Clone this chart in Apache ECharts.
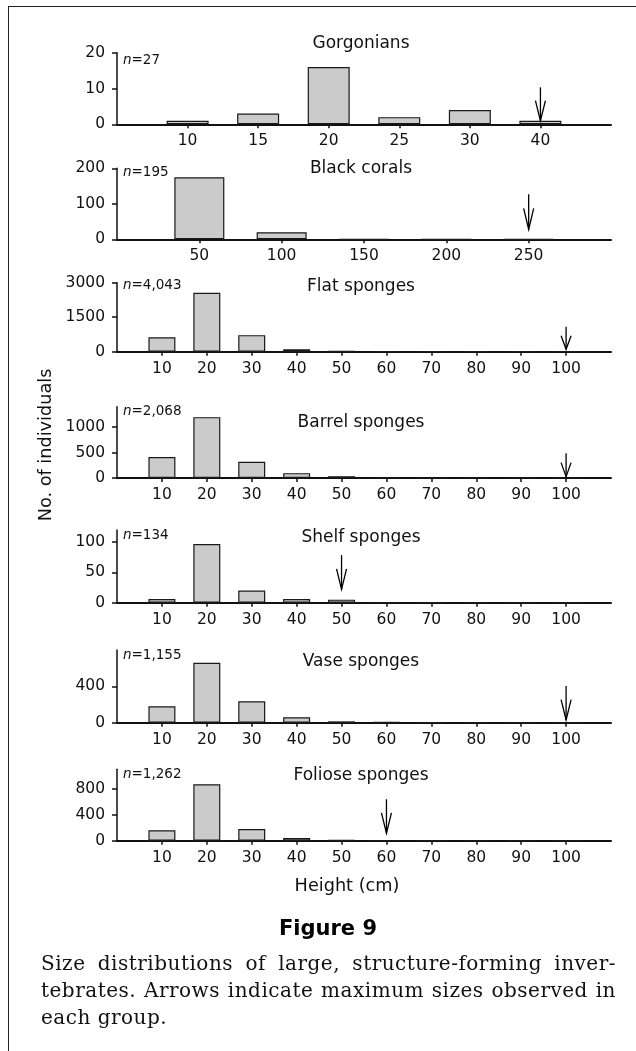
<!DOCTYPE html>
<html>
<head>
<meta charset="utf-8">
<script src="https://cdn.jsdelivr.net/npm/echarts@6/dist/echarts.min.js"></script>
<style>
  body { margin: 0; background: #fff; }
  #frame { position: absolute; left: 8px; top: 6px; width: 640px; height: 1060px;
           border-left: 1.5px solid #222; border-top: 1.5px solid #222; }
  #main { position: absolute; left: 0; top: 0; width: 636px; height: 1051px; }
  .cap { position: absolute; left: 41px; width: 575px; height: 27px; line-height: 27px;
         font-family: "DejaVu Serif", serif; font-size: 20px; letter-spacing: 0.5px;
         color: #111; white-space: nowrap; }
  .just { text-align: justify; text-align-last: justify; }
</style>
</head>
<body>
<div id="frame"></div>
<div id="main"></div>
<div class="cap just" style="top:950px">Size distributions of large, structure-forming inver-</div>
<div class="cap just" style="top:977px">tebrates. Arrows indicate maximum sizes observed in</div>
<div class="cap" style="top:1004px">each group.</div>
<script>
// bins / categories
var gorgonianLabels = ['10', '15', '20', '25', '30', '40']
var blackCoralBins = [50, 100, 150, 200, 250]
var spongeBins = [10, 20, 30, 40, 50, 60, 70, 80, 90, 100]

// counts
var gorgonianCounts = [1, 3, 16, 2, 4, 1]
var blackCoralCounts = [175, 20, 0, 0, 0]
var flatCounts = [630, 2560, 720, 105, 20, 5, 2, 1, 0, 0]
var barrelCounts = [410, 1195, 320, 95, 35, 10, 3, 0, 0, 0]
var shelfCounts = [6, 97, 20, 6, 5, 0, 0, 0, 0, 0]
var vaseCounts = [180, 660, 235, 60, 15, 5, 0, 0, 0, 0]
var folioseCounts = [160, 870, 180, 40, 10, 2, 0, 0, 0, 0]

var groupNames = ['Gorgonians', 'Black corals', 'Flat sponges', 'Barrel sponges',
                  'Shelf sponges', 'Vase sponges', 'Foliose sponges']
var sampleSizes = ['27', '195', '4,043', '2,068', '134', '1,155', '1,262']
var yTickValues = [[0, 10, 20], [0, 100, 200], [0, 1500, 3000], [0, 500, 1000],
                   [0, 50, 100], [0, 400], [0, 400, 800]]
var yMaxValues = [20, 200, 3000, 1400, 120, 800, 1100]
// arrows: maximum size observed, and the count level where the arrow tip sits
var maxSizes = ['40', 250, 100, 100, 50, 100, 60]
var arrowTipCounts = [1, 28, 104, 26, 22, 30, 115]

// layout (pixels)
var panelTop = [52.7, 168.3, 282.7, 406.7, 530, 650, 769.3]
var panelHeight = [71.6, 71, 69, 71.3, 72.7, 72.7, 71.4]
var titleY = [44, 169, 287, 422.5, 538, 661.5, 775.5]
var nLabelY = [60, 172, 285, 411.7, 535, 655, 774]
var arrowLen = [33.4, 35, 22.6, 23.4, 34.3, 34, 34]
var barWidthPx = [42, 50, 27, 27, 27, 27, 27]

var FONT = 'DejaVu Sans'
var INK = '#111'
var allCounts = [gorgonianCounts, blackCoralCounts, flatCounts, barrelCounts,
                 shelfCounts, vaseCounts, folioseCounts]

function binPosition(i, k) {
    if (i === 0) return k + 1
    if (i === 1) return blackCoralBins[k]
    return spongeBins[k]
}

var grids = [], xAxes = [], yAxes = [], series = [], graphics = []

for (var i = 0; i < 7; i++) {
    grids.push({left: 117, right: 25, top: panelTop[i], height: panelHeight[i],
                containLabel: false, outerBoundsMode: 'none'})

    var xTicks, xMax, fmt
    if (i === 0) {
        xTicks = gorgonianLabels.map(function (_, k) { return k + 1 })
        xMax = 7
        fmt = function (v) { return gorgonianLabels[v - 1] }
    } else if (i === 1) {
        xTicks = blackCoralBins
        xMax = 300
        fmt = function (v) { return String(v) }
    } else {
        xTicks = spongeBins
        xMax = 110
        fmt = function (v) { return String(v) }
    }
    xAxes.push({
        gridIndex: i, type: 'value', min: 0, max: xMax,
        axisLine: {show: true, onZero: false, lineStyle: {color: INK, width: 2}},
        axisTick: {show: true, length: 4, customValues: xTicks, lineStyle: {color: INK, width: 1.5}},
        axisLabel: {color: INK, fontSize: 15.5, fontFamily: FONT, margin: 9,
                    customValues: xTicks, formatter: fmt},
        splitLine: {show: false}
    })
    yAxes.push({
        gridIndex: i, type: 'value', min: 0, max: yMaxValues[i],
        axisLine: {show: true, lineStyle: {color: INK, width: 1.5}},
        axisTick: {show: true, length: 5, customValues: yTickValues[i], lineStyle: {color: INK, width: 1.5}},
        axisLabel: {color: INK, fontSize: 15.5, fontFamily: FONT, margin: 12,
                    customValues: yTickValues[i],
                    formatter: function (v) { return String(v) }},
        splitLine: {show: false}
    })

    var barData = allCounts[i].map(function (c, k) { return [binPosition(i, k), c] })
    series.push({
        type: 'bar', xAxisIndex: i, yAxisIndex: i, data: barData,
        barWidth: barWidthPx[i], silent: true,
        itemStyle: {color: '#cbcbcb', borderColor: '#1a1a1a', borderWidth: 1.2}
    })

    var arrowX = i === 0 ? gorgonianLabels.indexOf(maxSizes[0]) + 1 : maxSizes[i]
    series.push({
        type: 'custom', xAxisIndex: i, yAxisIndex: i, clip: false, silent: true, z: 5,
        data: [[arrowX, arrowTipCounts[i], arrowLen[i]]],
        renderItem: function (params, api) {
            var p = api.coord([api.value(0), api.value(1)])
            var len = api.value(2)
            var head = len * 0.6
            return {
                type: 'group',
                children: [
                    {type: 'line', shape: {x1: p[0], y1: p[1] - len, x2: p[0], y2: p[1]},
                     style: {stroke: '#000', lineWidth: 1.3}},
                    {type: 'polyline', shape: {points: [[p[0] - 5, p[1] - head], [p[0], p[1]], [p[0] + 5, p[1] - head]]},
                     style: {stroke: '#000', fill: null, lineWidth: 1.3}}
                ]
            }
        }
    })

    graphics.push({
        type: 'text', x: 361, y: titleY[i], silent: true,
        style: {text: groupNames[i], fontSize: 17, fontFamily: FONT, fill: INK,
                align: 'center', verticalAlign: 'middle'}
    })
    graphics.push({
        type: 'text', x: 123, y: nLabelY[i], silent: true,
        style: {text: '{i|n}{r|=' + sampleSizes[i] + '}', fill: INK,
                align: 'left', verticalAlign: 'middle',
                rich: {
                    i: {fontSize: 13.5, fontFamily: FONT, fontStyle: 'italic', fill: INK},
                    r: {fontSize: 13.5, fontFamily: FONT, fill: INK}
                }}
    })
}

graphics.push({
    type: 'text', x: 46, y: 445, rotation: Math.PI / 2, silent: true,
    style: {text: 'No. of individuals', fontSize: 17.7, fontFamily: FONT, fill: INK,
            align: 'center', verticalAlign: 'middle'}
})
graphics.push({
    type: 'text', x: 347, y: 886, silent: true,
    style: {text: 'Height (cm)', fontSize: 17.7, fontFamily: FONT, fill: INK,
            align: 'center', verticalAlign: 'middle'}
})
graphics.push({
    type: 'text', x: 328, y: 930, silent: true,
    style: {text: 'Figure 9', fontSize: 21, fontWeight: 'bold', fontFamily: FONT, fill: '#000',
            align: 'center', verticalAlign: 'middle'}
})

var chart = echarts.init(document.getElementById('main'), null, {renderer: 'canvas'})
chart.setOption({
    animation: false,
    backgroundColor: 'transparent',
    grid: grids,
    xAxis: xAxes,
    yAxis: yAxes,
    series: series,
    graphic: graphics
})
</script>
</body>
</html>
